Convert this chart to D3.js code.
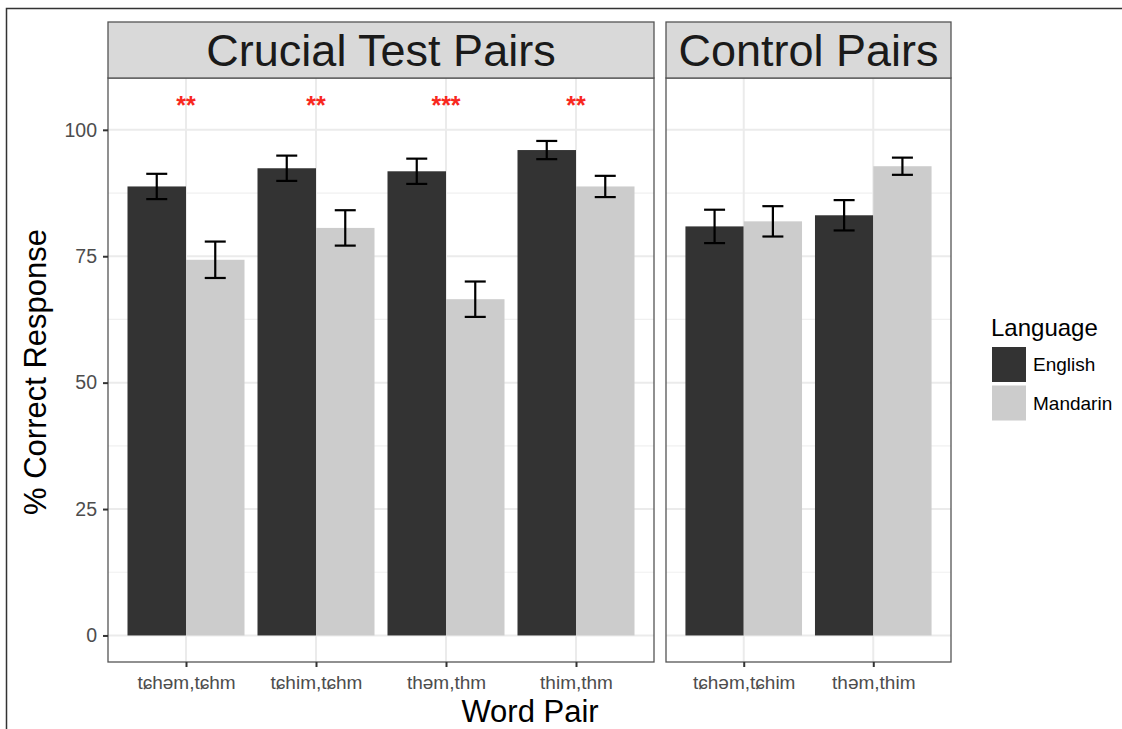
<!DOCTYPE html>
<html lang="en">
<head>
<meta charset="UTF-8" />
<title>Word Pair Discrimination</title>
<script src="https://cdn.jsdelivr.net/npm/d3@7"></script>
<style>
  body { margin: 0; background: #fff; }
  text { font-family: "Liberation Sans", Arial, Helvetica, sans-serif; }
</style>
</head>
<body>
<script>
// data
var languages = ["English", "Mandarin"];
var crucialPairs = ["t\u0255h\u0259m,t\u0255hm", "t\u0255him,t\u0255hm", "th\u0259m,thm", "thim,thm"];
var controlPairs = ["t\u0255h\u0259m,t\u0255him", "th\u0259m,thim"];
var englishCrucial = [88.8, 92.4, 91.8, 96.0];
var englishCrucialErr = [2.5, 2.5, 2.5, 1.8];
var mandarinCrucial = [74.3, 80.6, 66.5, 88.8];
var mandarinCrucialErr = [3.6, 3.5, 3.5, 2.1];
var englishControl = [80.9, 83.1];
var englishControlErr = [3.3, 3.0];
var mandarinControl = [81.9, 92.8];
var mandarinControlErr = [3.0, 1.7];
var signif = ["**", "**", "***", "**"];
var signifY = 105;
var yTicks = [0, 25, 50, 75, 100];
var yMinor = [12.5, 37.5, 62.5, 87.5];

var W = 1122, H = 729;
var colors = {English: "#333333", Mandarin: "#cccccc"};

var svg = d3.select("body").append("svg")
  .attr("width", W).attr("height", H);

// outer frame
svg.append("path")
  .attr("d", "M6.5,729 V8.5 H1122")
  .attr("fill", "none").attr("stroke", "#333").attr("stroke-width", 1.5);

var panelTop = 78, panelBottom = 662, stripTop = 22;

var y = d3.scaleLinear().domain([-5.25, 110.25]).range([panelBottom, panelTop]);

function rows(cats, eng, engErr, man, manErr) {
  var out = [];
  cats.forEach(function(c, i) {
    out.push({pair: c, lang: "English", v: eng[i], e: engErr[i]});
    out.push({pair: c, lang: "Mandarin", v: man[i], e: manErr[i]});
  });
  return out;
}

var panels = [
  {title: "Crucial Test Pairs", x0: 108, x1: 654, cats: crucialPairs,
   data: rows(crucialPairs, englishCrucial, englishCrucialErr, mandarinCrucial, mandarinCrucialErr), sig: signif},
  {title: "Control Pairs", x0: 666, x1: 951, cats: controlPairs,
   data: rows(controlPairs, englishControl, englishControlErr, mandarinControl, mandarinControlErr), sig: null}
];

panels.forEach(function(p) {
  var x = d3.scalePoint().domain(p.cats).range([p.x0, p.x1]).padding(0.6);
  var step = x.step();
  var bw = step * 0.9 / 2;
  var g = svg.append("g");

  // grid
  g.selectAll("line.minor").data(yMinor).enter().append("line")
    .attr("x1", p.x0).attr("x2", p.x1)
    .attr("y1", function(d) { return y(d); }).attr("y2", function(d) { return y(d); })
    .attr("stroke", "#f0f0f0").attr("stroke-width", 1.2);
  g.selectAll("line.major").data(yTicks).enter().append("line")
    .attr("x1", p.x0).attr("x2", p.x1)
    .attr("y1", function(d) { return y(d); }).attr("y2", function(d) { return y(d); })
    .attr("stroke", "#ebebeb").attr("stroke-width", 2);
  g.selectAll("line.vgrid").data(p.cats).enter().append("line")
    .attr("x1", function(d) { return x(d); }).attr("x2", function(d) { return x(d); })
    .attr("y1", panelTop).attr("y2", panelBottom)
    .attr("stroke", "#ebebeb").attr("stroke-width", 2);

  // bars
  g.selectAll("rect.bar").data(p.data).enter().append("rect")
    .attr("x", function(d) { return d.lang == "English" ? x(d.pair) - bw : x(d.pair); })
    .attr("width", bw)
    .attr("y", function(d) { return y(d.v); })
    .attr("height", function(d) { return y(0) - y(d.v); })
    .attr("fill", function(d) { return colors[d.lang]; });

  // error bars
  var cap = 10.5;
  var eb = g.selectAll("g.err").data(p.data).enter().append("g")
    .attr("transform", function(d) {
      return "translate(" + (d.lang == "English" ? x(d.pair) - bw / 2 : x(d.pair) + bw / 2) + ",0)";
    })
    .attr("stroke", "#000").attr("stroke-width", 2.2);
  eb.append("line").attr("x1", 0).attr("x2", 0)
    .attr("y1", function(d) { return y(d.v + d.e); }).attr("y2", function(d) { return y(d.v - d.e); });
  eb.append("line").attr("x1", -cap).attr("x2", cap)
    .attr("y1", function(d) { return y(d.v + d.e); }).attr("y2", function(d) { return y(d.v + d.e); });
  eb.append("line").attr("x1", -cap).attr("x2", cap)
    .attr("y1", function(d) { return y(d.v - d.e); }).attr("y2", function(d) { return y(d.v - d.e); });

  // significance stars
  if (p.sig) {
    g.selectAll("text.sig").data(p.cats).enter().append("text")
      .attr("x", function(d) { return x(d); })
      .attr("y", y(signifY) + 9)
      .attr("text-anchor", "middle")
      .attr("fill", "#f8281e")
      .style("font-size", "25px")
      .style("font-weight", "bold")
      .text(function(d, i) { return p.sig[i]; });
  }

  // panel border
  g.append("rect")
    .attr("x", p.x0).attr("y", panelTop)
    .attr("width", p.x1 - p.x0).attr("height", panelBottom - panelTop)
    .attr("fill", "none").attr("stroke", "#555").attr("stroke-width", 1.3);

  // strip
  g.append("rect")
    .attr("x", p.x0).attr("y", stripTop)
    .attr("width", p.x1 - p.x0).attr("height", panelTop - stripTop)
    .attr("fill", "#d9d9d9").attr("stroke", "#555").attr("stroke-width", 1.3);
  g.append("text")
    .attr("x", (p.x0 + p.x1) / 2).attr("y", (stripTop + panelTop) / 2 + 16)
    .attr("text-anchor", "middle")
    .attr("fill", "#1a1a1a")
    .style("font-size", "45px")
    .text(p.title);

  // x axis
  var xAxis = d3.axisBottom(x).tickSize(5).tickPadding(9);
  var gx = svg.append("g")
    .attr("transform", "translate(0," + panelBottom + ")")
    .call(xAxis);
  gx.select(".domain").remove();
  gx.selectAll(".tick line").attr("stroke", "#333").attr("stroke-width", 2);
  gx.selectAll(".tick text").attr("fill", "#4d4d4d")
    .style("font-size", "19px").style("font-family", "'Liberation Sans', Arial, sans-serif");
});

// y axis
var yAxis = d3.axisLeft(y).tickValues(yTicks).tickSize(5).tickPadding(6);
var gy = svg.append("g")
  .attr("transform", "translate(108,0)")
  .call(yAxis);
gy.select(".domain").remove();
gy.selectAll(".tick line").attr("stroke", "#333").attr("stroke-width", 2);
gy.selectAll(".tick text").attr("fill", "#4d4d4d")
  .style("font-size", "19.5px").style("font-family", "'Liberation Sans', Arial, sans-serif");

// axis titles
svg.append("text")
  .attr("transform", "translate(46," + 372 + ") rotate(-90)")
  .attr("text-anchor", "middle")
  .style("font-size", "31px")
  .text("% Correct Response");
svg.append("text")
  .attr("x", 530).attr("y", 722)
  .attr("text-anchor", "middle")
  .style("font-size", "31px")
  .text("Word Pair");

// legend
var leg = svg.append("g").attr("transform", "translate(991,0)");
leg.append("text").attr("x", 0).attr("y", 336)
  .style("font-size", "24px").text("Language");
leg.selectAll("rect").data(languages).enter().append("rect")
  .attr("x", 1).attr("y", function(d, i) { return 347 + i * 38.5; })
  .attr("width", 34).attr("height", 35)
  .attr("fill", function(d) { return colors[d]; });
leg.selectAll("text.lab").data(languages).enter().append("text")
  .attr("class", "lab")
  .attr("x", 42).attr("y", function(d, i) { return 371 + i * 38.5; })
  .style("font-size", "19px")
  .text(function(d) { return d; });
</script>
</body>
</html>
